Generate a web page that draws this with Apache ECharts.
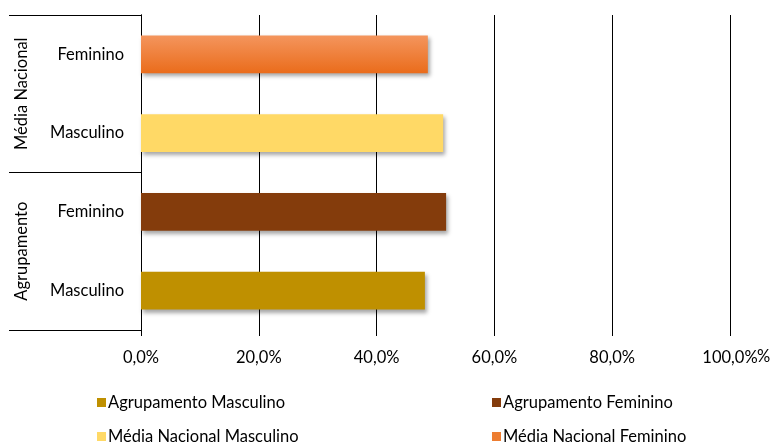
<!DOCTYPE html>
<html><head><meta charset="utf-8">
<script src="https://cdn.jsdelivr.net/npm/echarts@6/dist/echarts.min.js"></script>
<style>html,body{margin:0;padding:0;background:#fff}#c{width:771px;height:444px}</style>
</head><body><div id="c"></div>
<script>
const categories = ['Masculino', 'Feminino', 'Masculino', 'Feminino'];
const groups = ['Agrupamento', 'Média Nacional'];
const seriesNames = ['Agrupamento Masculino', 'Agrupamento Feminino', 'Média Nacional Masculino', 'Média Nacional Feminino'];
const values = [48.2, 51.8, 51.3, 48.7];
const xTicks = [0, 20, 40, 60, 80, 100];

const FONT = 'Lato';
const FS = 16.5;
const colors = ['#BF9000', '#843C0C', '#FFD966', '#ED7D31'];
const fills = [
  '#BF9000', '#843C0C', '#FFD966',
  new echarts.graphic.LinearGradient(0, 0, 0, 1, [{offset: 0, color: '#F4955D'}, {offset: 1, color: '#EA6C1B'}])
];

const series = seriesNames.map((n, i) => ({
  name: n, type: 'bar', stack: 'all', barWidth: '48%',
  data: categories.map((c, j) => j === i ? values[i] : '-'),
  itemStyle: {color: fills[i], shadowBlur: 4, shadowOffsetX: 2, shadowOffsetY: 3, shadowColor: 'rgba(0,0,0,0.35)'}
}));

const legendPos = [[97, 394], [492, 394], [97, 428], [492, 428]];
const legends = seriesNames.map((n, i) => ({
  data: [{name: n, itemStyle: {color: colors[i]}}],
  left: legendPos[i][0], top: legendPos[i][1], padding: 0,
  icon: 'rect', itemWidth: 9, itemHeight: 9, selectedMode: false,
  textStyle: {fontFamily: FONT, fontSize: FS, color: '#000', padding: [0, 0, 0, -3]}
}));

const chart = echarts.init(document.getElementById('c'));
chart.setOption({
  animation: false,
  grid: {left: 141, right: 41, top: 15, bottom: 114, containLabel: false, outerBoundsMode: 'none'},
  legend: legends,
  xAxis: {
    type: 'value', min: xTicks[0], max: xTicks[xTicks.length - 1], interval: 20,
    name: '%', nameLocation: 'end', nameGap: 27, nameMoveOverlap: false,
    nameTextStyle: {fontFamily: FONT, fontSize: FS, color: '#000', verticalAlign: 'top', padding: [18, 0, 0, 0]},
    axisLine: {show: false},
    axisTick: {show: true, length: 6, lineStyle: {color: '#000'}},
    splitLine: {show: true, lineStyle: {color: '#000', width: 1}},
    axisLabel: {margin: 19, fontFamily: FONT, fontSize: FS, color: '#000',
      formatter: v => v.toFixed(1).replace('.', ',') + '%'}
  },
  yAxis: [
    {type: 'category', data: categories, position: 'left',
      axisLine: {show: true, lineStyle: {color: '#000'}},
      axisTick: {show: false},
      axisLabel: {margin: 17, fontFamily: FONT, fontSize: FS, color: '#000'}},
    {type: 'category', data: groups, position: 'left',
      axisLine: {show: true, lineStyle: {color: '#000'}},
      axisTick: {show: true, length: 132, lineStyle: {color: '#000'}},
      axisLabel: {rotate: 90, margin: 111, fontFamily: FONT, fontSize: FS, color: '#000'}}
  ],
  series: series
});
</script></body></html>
